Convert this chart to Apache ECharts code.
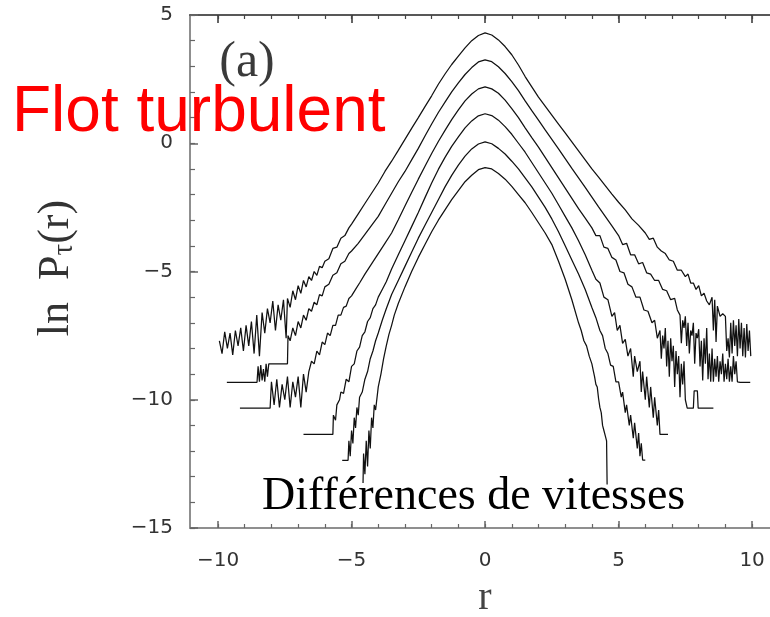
<!DOCTYPE html>
<html>
<head>
<meta charset="utf-8">
<script src="https://cdn.jsdelivr.net/npm/echarts@6.0.0/dist/echarts.min.js"></script>
<style>
  html, body { margin: 0; padding: 0; background: #fff; }
  #chart { width: 770px; height: 617px; }
</style>
</head>
<body>
<div id="chart"></div>
<script>
// Tick positions
const xMajorTicks = [-10, -5, 0, 5, 10];
const xMinorTicks = [-10, -9, -8, -7, -6, -5, -4, -3, -2, -1, 0, 1, 2, 3, 4, 5, 6, 7, 8, 9, 10];
const yMajorTicks = [-15, -10, -5, 0, 5];
const yMinorTicks = [-15, -14, -13, -12, -11, -10, -9, -8, -7, -6, -5, -4, -3, -2, -1, 0, 1, 2, 3, 4, 5];

// ln P_tau(r) for six separations, shifted vertically; pairs are [r, ln P]
const curve1 = [
  [-9.95,-7.7],[-9.85,-8.2],[-9.75,-7.35],[-9.65,-8.0],[-9.55,-7.4],[-9.45,-8.25],[-9.35,-7.3],[-9.25,-7.9],
  [-9.15,-7.2],[-9.05,-8.1],[-8.95,-7.1],[-8.85,-7.9],[-8.75,-6.95],[-8.65,-8.2],[-8.55,-6.7],[-8.45,-8.3],
  [-8.35,-6.6],[-8.25,-7.4],[-8.15,-6.45],[-8.05,-7.0],[-7.95,-6.15],[-7.85,-7.3],[-7.75,-6.3],[-7.65,-6.9],
  [-7.55,-6.1],[-7.45,-7.6],[-7.4,-6.05],[-7.3,-6.4],[-7.2,-5.75],[-7.1,-6.1],[-7.0,-5.55],[-6.9,-5.85],
  [-6.8,-5.35],[-6.7,-5.6],[-6.6,-5.2],[-6.5,-5.35],[-6.4,-5.0],[-6.3,-5.15],[-6.2,-4.8],[-6.1,-4.85],
  [-6.0,-4.6],[-5.85,-4.5],[-5.7,-4.1],[-5.55,-4.05],[-5.4,-3.7],[-5.25,-3.6],[-5.1,-3.3],[-5.0,-3.15],
  [-4.75,-2.75],[-4.5,-2.35],[-4.25,-1.95],[-4.0,-1.55],[-3.75,-1.1],[-3.5,-0.7],[-3.25,-0.28],[-3.0,0.15],
  [-2.75,0.58],[-2.5,1.0],[-2.25,1.43],[-2.0,1.85],[-1.75,2.3],[-1.5,2.7],[-1.25,3.07],[-1.0,3.4],
  [-0.75,3.72],[-0.5,4.0],[-0.25,4.2],[0,4.3],[0.25,4.22],[0.5,4.03],[0.75,3.77],[1.0,3.45],
  [1.25,3.05],[1.5,2.6],[1.75,2.2],[2.0,1.8],[2.25,1.45],[2.5,1.1],[2.75,0.75],[3.0,0.4],
  [3.25,0.05],[3.5,-0.3],[3.75,-0.65],[4.0,-1.0],[4.25,-1.32],[4.5,-1.65],[4.75,-1.98],[5.0,-2.3],
  [5.25,-2.6],[5.5,-2.95],[5.75,-3.2],[6.0,-3.5],[6.15,-3.75],[6.3,-3.7],[6.45,-4.05],[6.6,-4.2],
  [6.75,-4.3],[6.9,-4.55],[7.05,-4.6],[7.2,-4.95],[7.35,-4.95],[7.5,-5.2],[7.6,-5.1],[7.7,-5.45],
  [7.8,-5.45],[7.9,-5.7],[8.0,-5.55],[8.1,-5.95],[8.2,-5.85],[8.3,-6.15],[8.4,-6.3],[8.5,-6.0],
  [8.55,-7.3],[8.6,-6.1],[8.65,-7.75],[8.7,-6.35],[8.8,-6.75],[8.9,-6.65],[9.0,-6.75],[9.05,-8.1],
  [9.1,-7.6],[9.15,-8.35],[9.2,-7.0],[9.25,-8.2],[9.3,-6.9],[9.35,-7.9],[9.4,-7.1],[9.45,-8.3],
  [9.5,-6.85],[9.55,-8.0],[9.6,-7.0],[9.65,-8.3],[9.7,-7.2],[9.75,-8.35],[9.8,-7.05],[9.85,-8.1],
  [9.9,-7.3],[9.95,-8.3]
];

const curve2 = [
  [-9.67,-9.32],[-8.54,-9.32],[-8.5,-8.7],[-8.45,-9.3],[-8.4,-8.65],[-8.35,-9.25],[-8.3,-8.8],[-8.25,-9.3],
  [-8.2,-8.6],[-8.15,-9.1],[-8.1,-8.6],[-7.4,-8.6],[-7.38,-7.5],[-7.3,-7.7],[-7.2,-7.2],[-7.1,-7.5],
  [-7.0,-6.95],[-6.9,-7.2],[-6.8,-6.7],[-6.7,-6.9],[-6.6,-6.45],[-6.5,-6.55],[-6.4,-6.2],[-6.3,-6.3],
  [-6.2,-5.9],[-6.1,-5.95],[-6.0,-5.6],[-5.85,-5.5],[-5.7,-5.15],[-5.55,-5.05],[-5.4,-4.7],[-5.25,-4.6],
  [-5.1,-4.3],[-5.0,-4.2],[-4.75,-3.9],[-4.5,-3.55],[-4.25,-3.2],[-4.0,-2.85],[-3.75,-2.4],[-3.5,-1.95],
  [-3.25,-1.5],[-3.0,-1.1],[-2.75,-0.65],[-2.5,-0.2],[-2.25,0.28],[-2.0,0.75],[-1.75,1.2],[-1.5,1.6],
  [-1.25,2.0],[-1.0,2.35],[-0.75,2.68],[-0.5,2.95],[-0.25,3.17],[0,3.25],[0.25,3.18],[0.5,2.98],
  [0.75,2.72],[1.0,2.4],[1.25,2.05],[1.5,1.65],[1.75,1.27],[2.0,0.9],[2.25,0.52],[2.5,0.15],
  [2.75,-0.22],[3.0,-0.6],[3.25,-0.98],[3.5,-1.35],[3.75,-1.72],[4.0,-2.1],[4.25,-2.48],[4.5,-2.85],
  [4.75,-3.22],[5.0,-3.6],[5.15,-3.95],[5.3,-3.9],[5.45,-4.35],[5.6,-4.35],[5.75,-4.7],[5.9,-4.65],
  [6.05,-5.05],[6.2,-5.1],[6.35,-5.35],[6.5,-5.35],[6.65,-5.7],[6.8,-5.75],[6.95,-6.1],[7.1,-6.05],
  [7.2,-6.5],[7.3,-6.7],[7.35,-7.8],[7.4,-6.9],[7.45,-7.2],[7.5,-6.75],[7.55,-7.9],[7.6,-7.0],
  [7.65,-8.2],[7.7,-7.3],[7.75,-7.5],[7.8,-7.0],[7.85,-8.6],[7.9,-7.4],[7.95,-7.6],[8.0,-7.25],
  [8.05,-8.7],[8.1,-7.7],[8.15,-9.25],[8.2,-7.6],[8.25,-8.6],[8.3,-7.2],[8.35,-9.2],[8.4,-8.2],
  [8.45,-9.3],[8.5,-8.0],[8.55,-9.3],[8.6,-8.4],[8.65,-9.1],[8.7,-8.3],[8.75,-9.3],[8.8,-8.5],
  [8.85,-9.0],[8.9,-8.2],[8.95,-9.3],[9.0,-8.6],[9.05,-9.2],[9.1,-8.4],[9.15,-9.3],[9.2,-8.7],
  [9.25,-9.3],[9.3,-8.3],[9.35,-9.0],[9.4,-8.5],[9.45,-9.3],[9.55,-9.32],[9.93,-9.32]
];

const curve3 = [
  [-9.18,-10.33],[-8.05,-10.33],[-8.0,-9.3],[-7.9,-10.2],[-7.8,-9.2],[-7.7,-10.3],[-7.6,-9.4],[-7.5,-10.0],
  [-7.4,-9.1],[-7.3,-10.3],[-7.2,-9.3],[-7.1,-9.9],[-7.0,-9.1],[-6.9,-10.3],[-6.8,-9.0],[-6.7,-9.7],
  [-6.6,-8.9],[-6.5,-8.5],[-6.4,-8.6],[-6.3,-8.1],[-6.2,-8.25],[-6.1,-7.75],[-6.0,-7.85],[-5.9,-7.4],
  [-5.8,-7.5],[-5.7,-7.1],[-5.6,-7.1],[-5.5,-6.7],[-5.4,-6.7],[-5.3,-6.4],[-5.2,-6.35],[-5.1,-6.05],
  [-5.0,-5.95],[-4.85,-5.7],[-4.7,-5.45],[-4.5,-5.1],[-4.25,-4.7],[-4.0,-4.3],[-3.75,-3.9],[-3.5,-3.5],
  [-3.25,-2.98],[-3.0,-2.45],[-2.75,-1.92],[-2.5,-1.4],[-2.25,-0.9],[-2.0,-0.4],[-1.75,0.07],[-1.5,0.5],
  [-1.25,0.92],[-1.0,1.3],[-0.75,1.65],[-0.5,1.92],[-0.25,2.12],[0,2.2],[0.25,2.12],[0.5,1.95],
  [0.75,1.68],[1.0,1.35],[1.25,1.0],[1.5,0.6],[1.75,0.22],[2.0,-0.15],[2.25,-0.55],[2.5,-0.95],
  [2.75,-1.35],[3.0,-1.75],[3.25,-2.15],[3.5,-2.55],[3.75,-2.92],[4.0,-3.3],[4.15,-3.6],[4.3,-3.6],
  [4.45,-4.05],[4.6,-4.1],[4.75,-4.45],[4.9,-4.55],[5.05,-5.0],[5.2,-5.05],[5.35,-5.5],[5.5,-5.6],
  [5.65,-6.0],[5.8,-6.0],[5.95,-6.5],[6.1,-6.55],[6.25,-7.0],[6.35,-6.9],[6.45,-7.6],[6.55,-7.3],
  [6.6,-8.4],[6.65,-7.5],[6.7,-8.0],[6.75,-7.2],[6.8,-8.7],[6.85,-7.7],[6.9,-9.1],[6.95,-7.6],
  [7.0,-8.5],[7.05,-7.9],[7.1,-9.5],[7.15,-8.1],[7.2,-9.0],[7.25,-8.3],[7.3,-9.9],[7.35,-8.6],
  [7.4,-9.4],[7.45,-8.5],[7.5,-10.0],[7.57,-10.33],[7.8,-10.33],[7.83,-9.65],[7.95,-9.65],[7.98,-10.33],
  [8.55,-10.33]
];

const curve4 = [
  [-6.8,-11.35],[-5.7,-11.35],[-5.68,-10.6],[-5.6,-10.8],[-5.55,-10.2],[-5.45,-10.0],[-5.4,-9.7],[-5.3,-9.75],
  [-5.2,-9.2],[-5.1,-9.3],[-5.0,-8.7],[-4.9,-8.6],[-4.8,-8.1],[-4.7,-7.95],[-4.6,-7.5],[-4.5,-7.35],
  [-4.4,-6.95],[-4.3,-6.8],[-4.2,-6.45],[-4.1,-6.3],[-4.0,-6.0],[-3.85,-5.7],[-3.7,-5.4],[-3.5,-4.9],
  [-3.25,-4.35],[-3.0,-3.8],[-2.75,-3.25],[-2.5,-2.7],[-2.25,-2.12],[-2.0,-1.55],[-1.75,-1.02],[-1.5,-0.55],
  [-1.25,-0.12],[-1.0,0.25],[-0.75,0.6],[-0.5,0.87],[-0.25,1.07],[0,1.15],[0.25,1.08],[0.5,0.9],
  [0.75,0.65],[1.0,0.35],[1.25,0.0],[1.5,-0.35],[1.75,-0.75],[2.0,-1.15],[2.25,-1.55],[2.5,-1.95],
  [2.75,-2.4],[3.0,-2.85],[3.25,-3.3],[3.5,-3.8],[3.75,-4.35],[4.0,-4.95],[4.15,-5.3],[4.3,-5.45],
  [4.45,-6.0],[4.6,-6.1],[4.75,-6.75],[4.85,-6.6],[4.95,-7.3],[5.05,-7.1],[5.15,-7.8],[5.25,-7.65],
  [5.35,-8.3],[5.45,-8.0],[5.55,-9.1],[5.6,-8.3],[5.7,-8.9],[5.8,-8.5],[5.85,-9.7],[5.9,-8.9],
  [6.0,-10.0],[6.05,-9.1],[6.15,-10.3],[6.2,-9.5],[6.3,-10.7],[6.35,-9.9],[6.45,-11.0],[6.5,-10.4],
  [6.55,-11.35],[6.85,-11.35]
];

const curve5 = [
  [-5.35,-12.36],[-5.13,-12.36],[-5.1,-11.6],[-5.05,-12.2],[-5.0,-11.2],[-4.95,-11.7],[-4.9,-10.7],[-4.85,-11.1],
  [-4.8,-10.3],[-4.75,-10.6],[-4.7,-9.9],[-4.6,-9.7],[-4.5,-9.2],[-4.4,-8.9],[-4.3,-8.4],[-4.2,-8.1],
  [-4.1,-7.7],[-4.0,-7.4],[-3.85,-6.9],[-3.7,-6.45],[-3.5,-5.9],[-3.25,-5.35],[-3.0,-4.8],[-2.75,-4.25],
  [-2.5,-3.7],[-2.25,-3.2],[-2.0,-2.7],[-1.75,-2.2],[-1.5,-1.7],[-1.25,-1.25],[-1.0,-0.85],[-0.75,-0.5],
  [-0.5,-0.22],[-0.25,-0.03],[0,0.05],[0.25,-0.02],[0.5,-0.2],[0.75,-0.42],[1.0,-0.7],[1.25,-1.0],
  [1.5,-1.35],[1.75,-1.7],[2.0,-2.1],[2.25,-2.5],[2.5,-2.95],[2.75,-3.45],[3.0,-4.0],[3.25,-4.55],
  [3.5,-5.1],[3.75,-5.7],[4.0,-6.4],[4.15,-6.8],[4.3,-7.3],[4.4,-7.5],[4.5,-8.0],[4.6,-8.2],
  [4.7,-8.65],[4.8,-8.7],[4.9,-9.3],[5.0,-9.3],[5.1,-9.9],[5.15,-9.7],[5.25,-10.5],[5.3,-10.2],
  [5.4,-11.0],[5.45,-10.6],[5.55,-11.5],[5.6,-10.9],[5.7,-11.9],[5.75,-11.3],[5.8,-12.2],[5.85,-11.7],
  [5.9,-12.35],[6.0,-12.35]
];

const curve6 = [
  [-4.57,-13.25],[-4.55,-12.1],[-4.5,-12.9],[-4.45,-11.6],[-4.4,-12.6],[-4.35,-11.2],[-4.3,-11.9],[-4.25,-10.7],
  [-4.2,-11.1],[-4.15,-10.2],[-4.1,-10.4],[-4.0,-9.5],[-3.9,-9.0],[-3.8,-8.4],[-3.7,-7.9],[-3.6,-7.45],
  [-3.5,-7.1],[-3.4,-6.7],[-3.25,-6.25],[-3.0,-5.6],[-2.75,-5.0],[-2.5,-4.45],[-2.25,-3.95],[-2.0,-3.45],
  [-1.75,-3.0],[-1.5,-2.6],[-1.25,-2.2],[-1.0,-1.85],[-0.75,-1.5],[-0.5,-1.25],[-0.25,-1.03],[0,-0.95],
  [0.25,-1.0],[0.5,-1.18],[0.75,-1.4],[1.0,-1.68],[1.25,-2.0],[1.5,-2.32],[1.75,-2.7],[2.0,-3.1],
  [2.25,-3.5],[2.5,-3.95],[2.75,-4.6],[3.0,-5.3],[3.25,-6.1],[3.5,-7.0],[3.6,-7.3],[3.7,-7.7],
  [3.8,-7.9],[3.9,-8.3],[4.0,-8.6],[4.05,-8.85],[4.1,-9.1],[4.15,-9.4],[4.2,-9.5],[4.25,-9.95],
  [4.3,-10.3],[4.35,-10.5],[4.4,-11.0],[4.45,-11.2],[4.5,-11.4],[4.55,-11.6],[4.57,-13.3]
];

const curves = [curve1, curve2, curve3, curve4, curve5, curve6];

const chart = echarts.init(document.getElementById('chart'), null, { renderer: 'canvas' });

const minus = v => String(v).replace('-', '\u2212');
const tickFont = '"DejaVu Sans", "Liberation Sans", sans-serif';
const serif = '"Liberation Serif", "DejaVu Serif", serif';
const grayAxis = '#8f8f8f';

// The frame runs past the right edge of the page, so the x range stops at 10.67
const baseX = { type: 'value', gridIndex: 0, min: -11.05, max: 10.67, splitLine: { show: false } };
const baseY = { type: 'value', gridIndex: 0, min: -15, max: 5, splitLine: { show: false } };

const option = {
  animation: false,
  backgroundColor: '#ffffff',
  grid: { left: 190, top: 15, right: 0, height: 513, containLabel: false },
  xAxis: [
    Object.assign({}, baseX, {
      position: 'bottom',
      axisLine: { show: true, onZero: false, lineStyle: { color: grayAxis, width: 2 } },
      axisTick: { show: true, inside: true, length: 7, customValues: xMajorTicks, lineStyle: { color: '#666', width: 1.5 } },
      axisLabel: { show: true, customValues: xMajorTicks, formatter: minus, margin: 23, fontSize: 20, fontFamily: tickFont, color: '#333' }
    }),
    Object.assign({}, baseX, {
      position: 'bottom',
      axisLine: { show: false, onZero: false },
      axisTick: { show: true, inside: true, length: 4, customValues: xMinorTicks, lineStyle: { color: '#666', width: 1.2 } },
      axisLabel: { show: false }
    }),
    Object.assign({}, baseX, {
      position: 'top',
      axisLine: { show: true, onZero: false, lineStyle: { color: '#222', width: 1.6 } },
      axisTick: { show: true, inside: true, length: 8, customValues: xMajorTicks, lineStyle: { color: '#333', width: 1.5 } },
      axisLabel: { show: false }
    }),
    Object.assign({}, baseX, {
      position: 'top',
      axisLine: { show: false, onZero: false },
      axisTick: { show: true, inside: true, length: 4, customValues: xMinorTicks, lineStyle: { color: '#444', width: 1.2 } },
      axisLabel: { show: false }
    })
  ],
  yAxis: [
    Object.assign({}, baseY, {
      position: 'left',
      axisLine: { show: true, onZero: false, lineStyle: { color: grayAxis, width: 2 } },
      axisTick: { show: true, inside: true, length: 8, customValues: yMajorTicks, lineStyle: { color: '#666', width: 1.5 } },
      axisLabel: { show: true, customValues: yMajorTicks, formatter: minus, margin: 17, fontSize: 20, fontFamily: tickFont, color: '#333' }
    }),
    Object.assign({}, baseY, {
      position: 'left',
      axisLine: { show: false, onZero: false },
      axisTick: { show: true, inside: true, length: 5, customValues: yMinorTicks, lineStyle: { color: '#666', width: 1.2 } },
      axisLabel: { show: false }
    })
  ],
  series: curves.map((c, i) => ({
    type: 'line',
    name: 'tau' + (i + 1),
    xAxisIndex: 0,
    yAxisIndex: 0,
    data: c,
    showSymbol: false,
    symbol: 'none',
    lineStyle: { color: '#111', width: 1.25 },
    z: 3,
    silent: true
  })),
  graphic: [
    {
      type: 'text', x: 247, y: 63, z: 10,
      style: { text: '(a)', font: '50px ' + serif, fill: '#3a3a3a', textAlign: 'center', textVerticalAlign: 'middle', align: 'center', verticalAlign: 'middle' }
    },
    {
      type: 'text', x: 12, y: 113, z: 10,
      style: { text: 'Flot turbulent', font: '64px "Liberation Sans", Arial, sans-serif', fill: '#ff0000', textAlign: 'left', textVerticalAlign: 'middle', align: 'left', verticalAlign: 'middle' }
    },
    {
      type: 'text', x: 262, y: 497, z: 10,
      style: { text: 'Différences de vitesses', font: '46px ' + serif, fill: '#000', textAlign: 'left', textVerticalAlign: 'middle', align: 'left', verticalAlign: 'middle' }
    },
    {
      type: 'text', x: 485, y: 598, z: 10,
      style: { text: 'r', font: '40px ' + serif, fill: '#444', textAlign: 'center', textVerticalAlign: 'middle', align: 'center', verticalAlign: 'middle' }
    },
    {
      type: 'text', x: 56, y: 268, rotation: Math.PI / 2, z: 10,
      style: {
        text: 'ln  P{t|τ}(r)',
        font: '44px ' + serif, fill: '#333',
        textAlign: 'center', textVerticalAlign: 'middle', align: 'center', verticalAlign: 'middle',
        rich: { t: { fontSize: 29, fontFamily: serif, fill: '#333', color: '#333', padding: [16, 0, 0, 0] } }
      }
    }
  ]
};

chart.setOption(option);
</script>
</body>
</html>
